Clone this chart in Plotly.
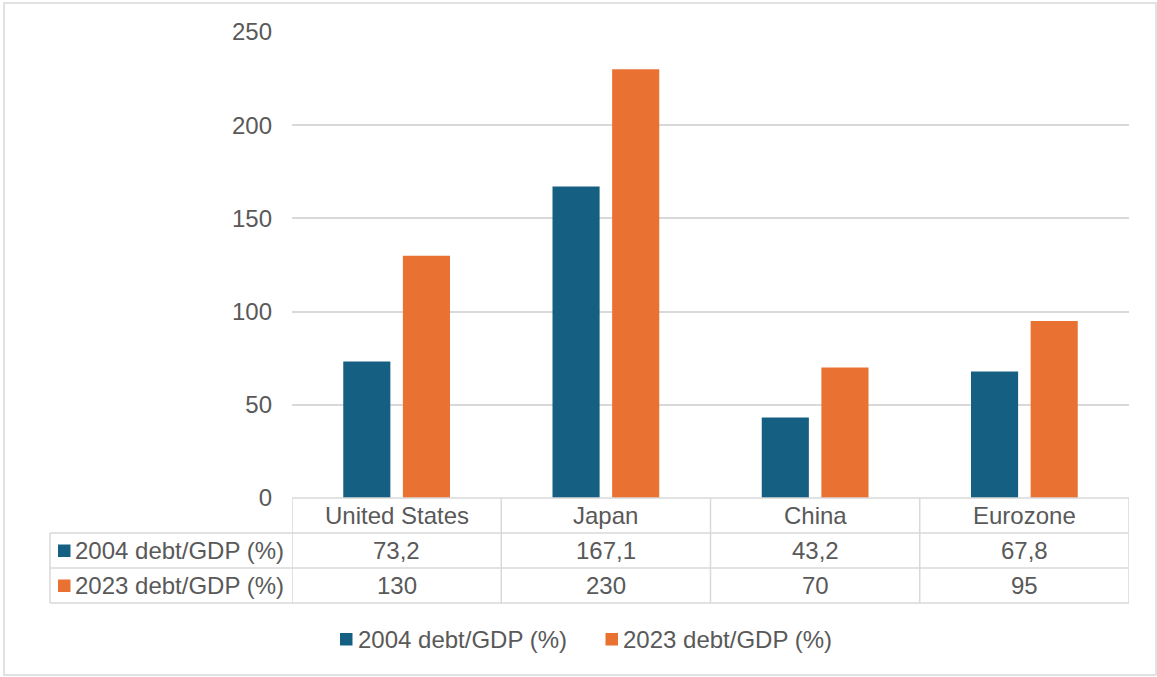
import plotly.graph_objects as go

categories = ["United States", "Japan", "China", "Eurozone"]
series_names = ["2004 debt/GDP (%)", "2023 debt/GDP (%)"]
debt_2004 = [73.2, 167.1, 43.2, 67.8]
debt_2023 = [130, 230, 70, 95]
colors = ["#156082", "#E97132"]
y_ticks = [0, 50, 100, 150, 200, 250]

W, H = 1157, 677
L, R, T, B = 292, 28, 32, 179
PW = W - L - R
PH = H - T - B
TEXT = "#595959"
LINE = "#D9D9D9"
FONT = "Liberation Sans, Arial, sans-serif"
FS = 24


def px(x):
    return (x - L) / PW


def py(y):
    return (H - B - y) / PH


def fmt(v):
    return f"{v:g}".replace(".", ",")


fig = go.Figure()
for name, vals, col in zip(series_names, [debt_2004, debt_2023], colors):
    fig.add_trace(go.Bar(x=categories, y=vals, name=name, marker_color=col,
                         marker_line_width=0, showlegend=False))

shapes = []
annotations = []

# outer chart border
shapes.append(dict(type="rect", xref="paper", yref="paper",
                   x0=px(4), x1=px(1156), y0=py(3), y1=py(675),
                   line=dict(color=LINE, width=1.5), fillcolor="rgba(0,0,0,0)", layer="below"))

# data table lines
row_y = [498, 533, 568, 603]
shapes.append(dict(type="line", xref="paper", yref="paper", x0=px(292), x1=px(1129),
                   y0=py(498), y1=py(498), line=dict(color=LINE, width=1.5)))
for yy in row_y[1:]:
    shapes.append(dict(type="line", xref="paper", yref="paper", x0=px(50), x1=px(1129),
                       y0=py(yy), y1=py(yy), line=dict(color=LINE, width=1.5)))
shapes.append(dict(type="line", xref="paper", yref="paper", x0=px(50), x1=px(50),
                   y0=py(533), y1=py(603), line=dict(color=LINE, width=1.5)))
for i in range(len(categories) + 1):
    shapes.append(dict(type="line", xref="x", yref="paper", x0=i - 0.5, x1=i - 0.5,
                       y0=py(498), y1=py(603), line=dict(color=LINE, width=1.5)))

# header row (category names)
for i, c in enumerate(categories):
    annotations.append(dict(x=i, y=py(515.5), xref="x", yref="paper", text=c,
                            showarrow=False, xanchor="center", yanchor="middle",
                            font=dict(family=FONT, size=FS, color=TEXT)))

# value rows
row_centers = [550.5, 585.5]
for r, (name, vals, col) in enumerate(zip(series_names, [debt_2004, debt_2023], colors)):
    yc = row_centers[r]
    shapes.append(dict(type="rect", xref="paper", yref="paper",
                       x0=px(58), x1=px(70.5), y0=py(yc - 6), y1=py(yc + 6.5),
                       fillcolor=col, line=dict(width=0)))
    annotations.append(dict(x=px(73), y=py(yc), xref="paper", yref="paper", text=name,
                            showarrow=False, xanchor="left", yanchor="middle",
                            font=dict(family=FONT, size=FS, color=TEXT)))
    for i, v in enumerate(vals):
        annotations.append(dict(x=i, y=py(yc), xref="x", yref="paper", text=fmt(v),
                                showarrow=False, xanchor="center", yanchor="middle",
                                font=dict(family=FONT, size=FS, color=TEXT)))

# legend
leg_y = 639.5
leg_x = [340, 605.5]
for name, col, lx in zip(series_names, colors, leg_x):
    shapes.append(dict(type="rect", xref="paper", yref="paper",
                       x0=px(lx), x1=px(lx + 12.5), y0=py(leg_y - 6.5), y1=py(leg_y + 6),
                       fillcolor=col, line=dict(width=0)))
    annotations.append(dict(x=px(lx + 15.5), y=py(leg_y), xref="paper", yref="paper", text=name,
                            showarrow=False, xanchor="left", yanchor="middle",
                            font=dict(family=FONT, size=FS, color=TEXT)))

fig.update_layout(
    width=W, height=H,
    margin=dict(l=L, r=R, t=T, b=B, pad=0),
    paper_bgcolor="white", plot_bgcolor="white",
    barmode="group", bargap=0.43, bargroupgap=0.21,
    font=dict(family=FONT, size=FS, color=TEXT),
    shapes=shapes, annotations=annotations,
    xaxis=dict(showticklabels=False, showgrid=False, zeroline=False, showline=False,
               range=[-0.5, len(categories) - 0.5], fixedrange=True),
    yaxis=dict(range=[0, 250], tickvals=y_ticks, ticktext=[str(t) for t in y_ticks],
               showgrid=True, gridcolor=LINE, gridwidth=1.5, zeroline=False,
               showline=False, ticks="", ticklabelstandoff=19,
               tickfont=dict(family=FONT, size=FS, color=TEXT), fixedrange=True),
)

fig.write_html("out.html", config={"displayModeBar": False})
